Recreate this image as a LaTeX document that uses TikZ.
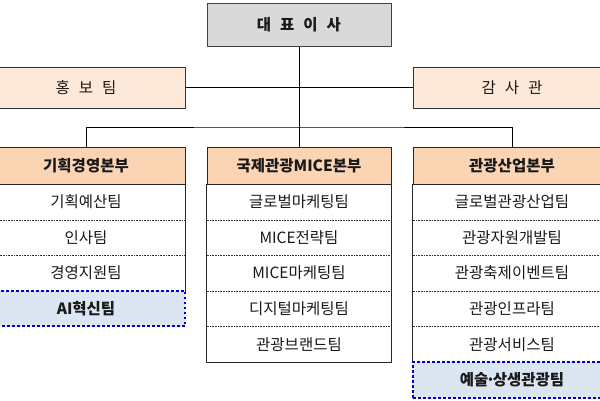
\documentclass[tikz,border=0pt]{standalone}
\usepackage{fontspec}
\setmainfont{Noto Sans CJK KR}
\definecolor{ceogray}{HTML}{D9D9D9}
\definecolor{staffpeach}{HTML}{FDE9D9}
\definecolor{headpeach}{HTML}{FBD4B4}
\definecolor{newblue}{HTML}{DCE6F2}
\definecolor{dotblue}{HTML}{0000CC}
\newcommand{\widegap}{\spaceskip=9pt\relax}
\newcommand{\tightdot}{\kern-2.5pt·\kern-2.5pt}
\begin{document}
\begin{tikzpicture}[x=1pt,y=-1pt,line join=bevel,
  base/.style={rectangle,inner sep=0pt,text=black!90,font=\fontsize{15.5}{18}\selectfont},
  ceo/.style={base,draw=black!75,fill=ceogray,line width=1pt,minimum width=184pt,minimum height=43pt,font=\fontsize{15.5}{18}\selectfont\bfseries\widegap},
  staff/.style={base,draw=black!80,fill=staffpeach,line width=0.9pt,minimum width=198pt,minimum height=41pt,font=\fontsize{15.5}{18}\selectfont\widegap},
  headbox/.style={base,draw=black!85,fill=headpeach,line width=0.9pt,minimum height=37pt,font=\fontsize{15.5}{18}\selectfont\bfseries},
  team/.style={base,minimum height=35.6pt},
  newteam/.style={base,draw=dotblue,fill=newblue,line width=2pt,dash pattern=on 2.5pt off 2.5pt,minimum height=35.6pt,font=\fontsize{15.5}{18}\selectfont\bfseries},
  sep/.style={densely dotted,black!80,line width=0.6pt},
  wide/.style={minimum width=198pt},
  narrow/.style={minimum width=184pt},
]
\useasboundingbox (0,0) rectangle (600,400);
%%
  \node (node_0) at (299,25) [ceo] {대 표 이 사};
  \node (node_1) at (86,87.5) [staff] {홍 보 팀};
  \node (node_2) at (512,87.5) [staff] {감 사 관};
%%
  \node (head_a) at (86,165.5) [headbox,wide] {기획경영본부};
  \node (head_b) at (299,165.5) [headbox,narrow] {국제관광MICE본부};
  \node (head_c) at (512,165.5) [headbox,wide] {관광산업본부};
%%
  \node (team_a1) at (86,201.8) [team,wide] {기획예산팀};
  \node (team_a2) at (86,237.4) [team,wide] {인사팀};
  \node (team_a3) at (86,273.0) [team,wide] {경영지원팀};
%
  \node (team_b1) at (299,201.8) [team,narrow] {글로벌마케팅팀};
  \node (team_b2) at (299,237.4) [team,narrow] {MICE전략팀};
  \node (team_b3) at (299,273.0) [team,narrow] {MICE마케팅팀};
  \node (team_b4) at (299,308.6) [team,narrow] {디지털마케팅팀};
  \node (team_b5) at (299,344.2) [team,narrow] {관광브랜드팀};
%
  \node (team_c1) at (512,201.8) [team,wide] {글로벌관광산업팀};
  \node (team_c2) at (512,237.4) [team,wide] {관광자원개발팀};
  \node (team_c3) at (512,273.0) [team,wide] {관광축제이벤트팀};
  \node (team_c4) at (512,308.6) [team,wide] {관광인프라팀};
  \node (team_c5) at (512,344.2) [team,wide] {관광서비스팀};
%%
  \draw [sep] (team_a1.south west) -- (team_a1.south east);
  \draw [sep] (team_a2.south west) -- (team_a2.south east);
  \draw [sep] (team_b1.south west) -- (team_b1.south east);
  \draw [sep] (team_b2.south west) -- (team_b2.south east);
  \draw [sep] (team_b3.south west) -- (team_b3.south east);
  \draw [sep] (team_b4.south west) -- (team_b4.south east);
  \draw [sep] (team_c1.south west) -- (team_c1.south east);
  \draw [sep] (team_c2.south west) -- (team_c2.south east);
  \draw [sep] (team_c3.south west) -- (team_c3.south east);
  \draw [sep] (team_c4.south west) -- (team_c4.south east);
%
  \draw [black!85,line width=0.9pt] (head_a.south west) rectangle (team_a3.south east);
  \draw [black!85,line width=0.9pt] (head_b.south west) rectangle (team_b5.south east);
  \draw [black!85,line width=0.9pt] (head_c.south west) rectangle (team_c5.south east);
%%
  \node (team_a4) at (86,308.6) [newteam,wide] {AI혁신팀};
  \node (team_c6) at (512,379.8) [newteam,wide] {예술\tightdot 상생관광팀};
%%
  \coordinate (bus) at (299,127);
  \draw [black,line width=0.9pt] (node_0) edge (head_b);
  \draw [black,line width=0.9pt] (node_1) edge (node_2);
  \draw [black,line width=0.9pt] (head_a.north) |- (bus) -| (head_c.north);
%
\end{tikzpicture}
\end{document}
